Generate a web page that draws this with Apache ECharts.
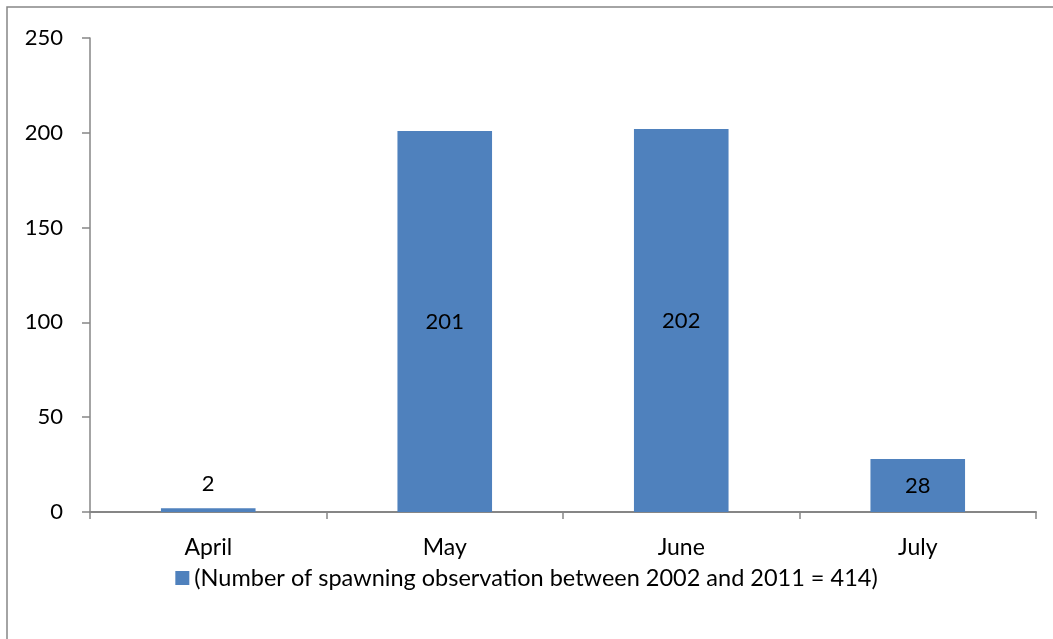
<!DOCTYPE html>
<html>
<head>
<meta charset="utf-8">
<script src="https://cdn.jsdelivr.net/npm/echarts@6/dist/echarts.min.js"></script>
<style>
  html, body { margin: 0; padding: 0; background: #fff; }
  #chart { width: 1053px; height: 639px; }
</style>
</head>
<body>
<div id="chart"></div>
<script>
// Spawning observations per month, 2002-2011
const months = ['April', 'May', 'June', 'July'];
const observations = [2, 201, 202, 28];
const seriesName = '(Number of spawning observation between 2002 and 2011 = 414)';
const yTicks = [0, 50, 100, 150, 200, 250];

const axisGray = '#868686';
const barBlue = '#4F81BD';
const font = 'Lato, "Open Sans", sans-serif';

const chart = echarts.init(document.getElementById('chart'), null, { renderer: 'canvas' });

chart.setOption({
  animation: false,
  backgroundColor: '#fff',
  graphic: [{
    type: 'rect',
    shape: { x: 7, y: 7, width: 1060, height: 650 },
    style: { fill: 'none', stroke: axisGray, lineWidth: 1.5 },
    silent: true
  }],
  grid: { left: 90, right: 17, top: 38, bottom: 127, containLabel: false },
  legend: {
    bottom: 44,
    left: 'center',
    itemWidth: 14,
    itemHeight: 14,
    itemGap: 8,
    icon: 'rect',
    textStyle: { fontFamily: font, fontSize: 23.5, color: '#000' },
    data: [seriesName]
  },
  xAxis: {
    type: 'category',
    data: months,
    boundaryGap: true,
    axisLine: { lineStyle: { color: axisGray, width: 2 } },
    axisTick: { show: true, alignWithLabel: false, length: 7, lineStyle: { color: axisGray, width: 1.5 } },
    axisLabel: { fontFamily: font, fontSize: 23, color: '#000', margin: 24 },
    splitLine: { show: false }
  },
  yAxis: {
    type: 'value',
    min: yTicks[0],
    max: yTicks[yTicks.length - 1],
    interval: yTicks[1] - yTicks[0],
    axisLine: { show: true, lineStyle: { color: axisGray, width: 1.5 } },
    axisTick: { show: true, length: 8, lineStyle: { color: axisGray, width: 1.5 } },
    axisLabel: { fontFamily: font, fontSize: 22, color: '#000', margin: 27 },
    splitLine: { show: false }
  },
  series: [{
    name: seriesName,
    type: 'bar',
    data: observations.map(v => ({
      value: v,
      label: v < 10 ? { position: 'top', distance: 13 } : { position: 'inside' }
    })),
    barWidth: '40%',
    itemStyle: { color: barBlue },
    label: {
      show: true,
      fontFamily: font,
      fontSize: 22,
      color: '#000'
    }
  }]
});
</script>
</body>
</html>
